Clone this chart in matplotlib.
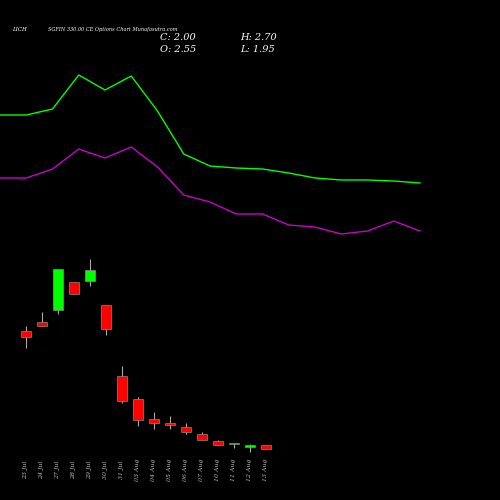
import matplotlib
matplotlib.use("Agg")
import matplotlib.pyplot as plt
import numpy as np

dates = ["23 Jul","24 Jul","27 Jul","28 Jul","29 Jul","30 Jul","31 Jul","03 Aug","04 Aug",
         "05 Aug","06 Aug","07 Aug","10 Aug","11 Aug","12 Aug","13 Aug"]
# values on an arbitrary chart scale (higher = higher price)
opens  = [169.3,177.7,190.3,217.7,219.0,194.7,124.0,101.0,80.7,76.7,72.7,66.0,58.7,55.7,53.3,54.7]
closes = [163.0,174.3,231.0,205.7,230.3,171.0,99.3,79.7,76.7,75.3,68.3,59.7,55.0,56.7,55.3,50.7]
highs  = [174.0,188.0,231.0,217.7,240.7,194.7,134.0,102.7,87.7,84.3,76.7,68.0,59.7,57.0,56.0,54.7]
lows   = [152.3,174.3,186.3,205.7,214.3,164.7,97.3,74.3,71.3,71.3,66.3,59.7,55.0,52.3,48.3,50.7]
upper  = [385,385,391,425,410,424,389,346,334,332,331,327,322,320,320,319,317]
lower  = [322,322,331,351,342,353,333,305,298,286,286,275,273,266,269,279,269]

fig = plt.figure(figsize=(5,5), dpi=100, facecolor="black")
ax = fig.add_axes([0,0,1,1], facecolor="black")
ax.set_xlim(0, 16*500/420)
ax.set_ylim(0, 500)
ax.axis("off")
xl = np.arange(len(upper))
ax.plot(xl, upper, color="#00ff00", lw=1)
ax.plot(xl, lower, color="#cc00cc", lw=1)

ax2 = fig.add_axes([0,0,1,1], facecolor="none")
ax2.set_xlim(-26/16, (500-26)/16)
ax2.set_ylim(0, 500)
ax2.axis("off")
for i,(o,c,h,l) in enumerate(zip(opens,closes,highs,lows)):
    col = "#00ff00" if c > o else "#ff0000"
    ax2.vlines(i, l, h, color="#aaaaaa", lw=0.8, zorder=1)
    b = min(o,c); ht = max(abs(c-o), 1.0)
    ax2.bar(i, ht, bottom=b, width=0.6, color=col, edgecolor="#888888", lw=0.5, zorder=2)
    ax2.text(i, 30, dates[i], rotation=90, color="#bbbbbb", fontsize=4.5,
             ha="center", va="center", family="serif", style="italic")

fig.text(0.024, 0.938, "LICH", color="white", fontsize=4, family="serif", style="italic")
fig.text(0.095, 0.938, "SGFIN 330.00 CE Options Chart Munafasutra.com", color="white",
         fontsize=3.6, family="serif", style="italic")
fig.text(0.32, 0.92, "C: 2.00", color="white", fontsize=7, family="serif", style="italic")
fig.text(0.32, 0.895, "O: 2.55", color="white", fontsize=7, family="serif", style="italic")
fig.text(0.48, 0.92, "H: 2.70", color="white", fontsize=7, family="serif", style="italic")
fig.text(0.48, 0.895, "L: 1.95", color="white", fontsize=7, family="serif", style="italic")
fig.savefig("out.png", dpi=100, facecolor="black")
